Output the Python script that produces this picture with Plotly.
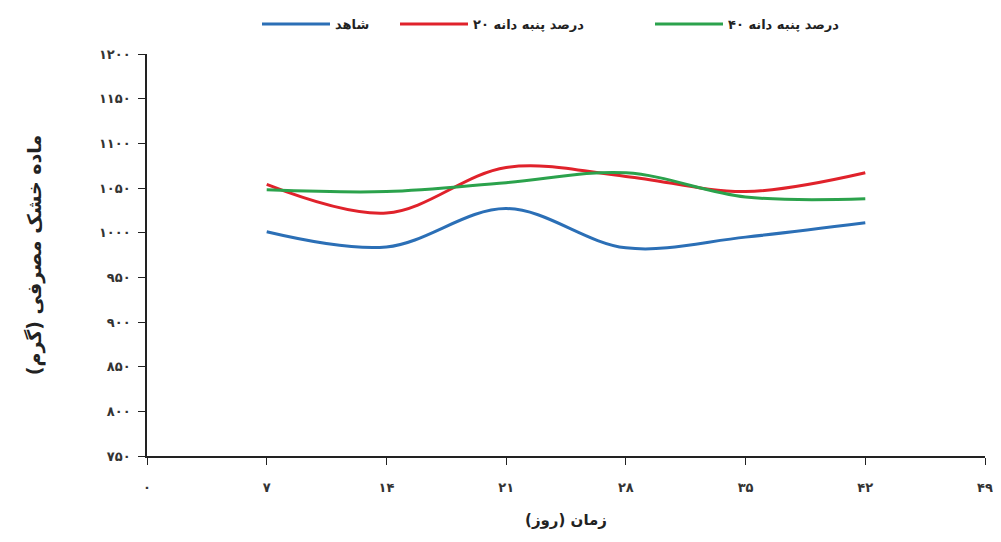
import plotly.graph_objects as go

days = [7, 14, 21, 28, 35, 42]
control = [1001, 984, 1027, 983, 995, 1011]
cotton20 = [1054, 1022, 1073, 1063, 1046, 1067]
cotton40 = [1048, 1046, 1056, 1067, 1040, 1038]

series_names = ["شاهد", "درصد پنبه دانه ۲۰", "درصد پنبه دانه ۴۰"]
series_colors = ["#2b6fb6", "#e0222b", "#2ba24c"]
legend_ids = ["legend", "legend2", "legend3"]

x_ticks = [0, 7, 14, 21, 28, 35, 42, 49]
x_labels = ["۰", "۷", "۱۴", "۲۱", "۲۸", "۳۵", "۴۲", "۴۹"]
y_ticks = [750, 800, 850, 900, 950, 1000, 1050, 1100, 1150, 1200]
y_labels = ["۷۵۰", "۸۰۰", "۸۵۰", "۹۰۰", "۹۵۰", "۱۰۰۰", "۱۰۵۰", "۱۱۰۰", "۱۱۵۰", "۱۲۰۰"]

x_title = "زمان (روز)"
y_title = "ماده خشک مصرفی (گرم)"

font_family = "DejaVu Sans"
W, H = 985, 526

fig = go.Figure()
for name, vals, col, lg in zip(series_names, [control, cotton20, cotton40], series_colors, legend_ids):
    fig.add_trace(go.Scatter(
        x=days, y=vals, name=name, mode="lines", legend=lg, showlegend=True,
        line=dict(color=col, width=3, shape="spline", smoothing=1.0),
    ))

axis_common = dict(
    showgrid=False, zeroline=False, showline=True, linecolor="#222222", linewidth=1.5,
    ticks="outside", ticklen=7, tickcolor="#222222", tickwidth=1.2, automargin=False,
    tickfont=dict(family=font_family, size=13, color="#333333", weight="bold"),
)

legend_common = dict(orientation="h", xref="container", yref="container",
                     xanchor="left", yanchor="middle", y=1 - 16 / H,
                     font=dict(family=font_family, size=13, color="#222222", weight="bold"),
                     itemwidth=68, bgcolor="rgba(0,0,0,0)")
legend_x_px = [254, 392, 647]

fig.update_layout(
    width=W, height=H, showlegend=True,
    paper_bgcolor="white", plot_bgcolor="white",
    margin=dict(l=139, r=8, t=46, b=78),
    font=dict(family=font_family, color="#222222"),
    xaxis=dict(range=[0, 49], tickvals=x_ticks, ticktext=x_labels, ticklabelstandoff=12,
               title=dict(text=x_title, font=dict(family=font_family, size=15, color="#222222", weight="bold"), standoff=20),
               **axis_common),
    yaxis=dict(range=[750, 1200], tickvals=y_ticks, ticktext=y_labels, ticklabelstandoff=5,
               title=dict(text=y_title, font=dict(family=font_family, size=19, color="#222222", weight="bold"), standoff=52),
               **axis_common),
    legend=dict(x=(legend_x_px[0] - 5) / W, **legend_common),
    legend2=dict(x=(legend_x_px[1] - 5) / W, **legend_common),
    legend3=dict(x=(legend_x_px[2] - 5) / W, **legend_common),
)

fig.write_html("out.html")
